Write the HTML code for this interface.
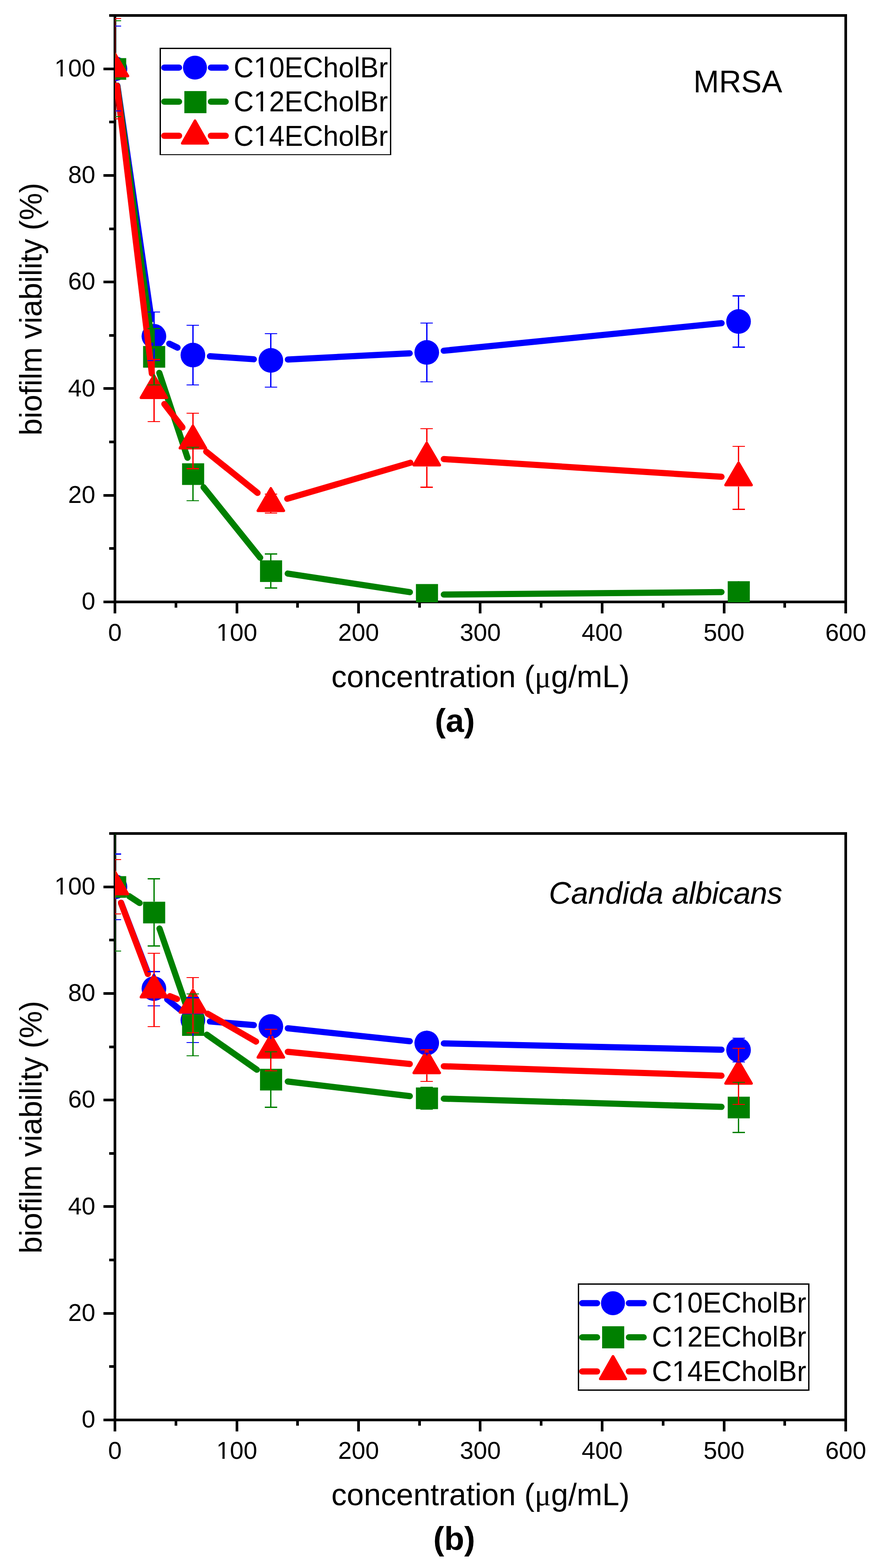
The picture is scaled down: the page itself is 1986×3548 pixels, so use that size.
<!DOCTYPE html>
<html lang="en"><head><meta charset="utf-8"><title>Biofilm viability</title>
<style>html,body{margin:0;padding:0;background:#fff}body{width:1986px;height:3548px;overflow:hidden}svg{display:block}text{white-space:pre}</style>
</head><body>
<svg width="1986" height="3548" viewBox="0 0 1986 3548">
<rect width="1986" height="3548" fill="#fff"/>
<g id="plot0">
<clipPath id="clip0"><rect x="260" y="35" width="1653" height="1328"/></clipPath>
<g stroke="#000" stroke-width="6" fill="none" shape-rendering="crispEdges">
<line x1="247" y1="35" x2="1916" y2="35"/>
<line x1="234" y1="1362" x2="1916" y2="1362"/>
<line x1="260" y1="35" x2="260" y2="1388"/>
<line x1="1913" y1="35" x2="1913" y2="1388"/>
<line x1="247" y1="1241.36" x2="260" y2="1241.36"/>
<line x1="234" y1="1120.73" x2="260" y2="1120.73"/>
<line x1="247" y1="1000.09" x2="260" y2="1000.09"/>
<line x1="234" y1="879.45" x2="260" y2="879.45"/>
<line x1="247" y1="758.82" x2="260" y2="758.82"/>
<line x1="234" y1="638.18" x2="260" y2="638.18"/>
<line x1="247" y1="517.55" x2="260" y2="517.55"/>
<line x1="234" y1="396.91" x2="260" y2="396.91"/>
<line x1="247" y1="276.27" x2="260" y2="276.27"/>
<line x1="234" y1="155.64" x2="260" y2="155.64"/>
<line x1="397.75" y1="1362" x2="397.75" y2="1375"/>
<line x1="535.5" y1="1362" x2="535.5" y2="1388"/>
<line x1="673.25" y1="1362" x2="673.25" y2="1375"/>
<line x1="811" y1="1362" x2="811" y2="1388"/>
<line x1="948.75" y1="1362" x2="948.75" y2="1375"/>
<line x1="1085.5" y1="1362" x2="1085.5" y2="1388"/>
<line x1="1224.25" y1="1362" x2="1224.25" y2="1375"/>
<line x1="1362" y1="1362" x2="1362" y2="1388"/>
<line x1="1499.75" y1="1362" x2="1499.75" y2="1375"/>
<line x1="1637.5" y1="1362" x2="1637.5" y2="1388"/>
<line x1="1775.25" y1="1362" x2="1775.25" y2="1375"/>
</g>
<g font-family='"Liberation Sans", Arial, Helvetica, sans-serif' fill="#000">
<text transform="translate(215.6 1379.3) scale(1 1.01)" font-size="55.5" text-anchor="end">0</text>
<text transform="translate(215.6 1138.03) scale(1 1.01)" font-size="55.5" text-anchor="end">20</text>
<text transform="translate(215.6 896.75) scale(1 1.01)" font-size="55.5" text-anchor="end">40</text>
<text transform="translate(215.6 655.48) scale(1 1.01)" font-size="55.5" text-anchor="end">60</text>
<text transform="translate(215.6 414.21) scale(1 1.01)" font-size="55.5" text-anchor="end">80</text>
<text transform="translate(215.6 172.94) scale(1 1.01)" font-size="55.5" text-anchor="end">100</text>
<rect x="126.23" y="166.73" width="10.73" height="8.71" fill="#fff"/><rect x="141.86" y="166.73" width="10.3" height="8.71" fill="#fff"/>
<text transform="translate(260 1449.8) scale(1 1.01)" font-size="55.5" text-anchor="middle">0</text>
<text transform="translate(535.5 1449.8) scale(1 1.01)" font-size="55.5" text-anchor="middle">100</text>
<rect x="492.43" y="1443.59" width="10.73" height="8.71" fill="#fff"/><rect x="508.06" y="1443.59" width="10.3" height="8.71" fill="#fff"/>
<text transform="translate(811 1449.8) scale(1 1.01)" font-size="55.5" text-anchor="middle">200</text>
<text transform="translate(1086.5 1449.8) scale(1 1.01)" font-size="55.5" text-anchor="middle">300</text>
<text transform="translate(1362 1449.8) scale(1 1.01)" font-size="55.5" text-anchor="middle">400</text>
<text transform="translate(1637.5 1449.8) scale(1 1.01)" font-size="55.5" text-anchor="middle">500</text>
<text transform="translate(1913 1449.8) scale(1 1.01)" font-size="55.5" text-anchor="middle">600</text>
<text transform="translate(749.5 1554.6)" font-size="69.5">concentration (<tspan font-family='"Liberation Serif", "DejaVu Serif", serif' font-size="69.5">μ</tspan>g/mL)</text>
<text transform="translate(94 985.5) rotate(-90)" font-size="69.5" letter-spacing="-0.17">biofilm viability (%)</text>
<text transform="translate(983.4 1655.8)" font-size="74.3" font-weight="bold">(a)</text>
<text transform="translate(1568.5 209.2) scale(1 1.02)" font-size="69.5">MRSA</text>
</g>
<g clip-path="url(#clip0)">
<g stroke="#0000ff" stroke-width="14" stroke-linecap="round" fill="none">
<line x1="265.56" y1="193.83" x2="342.6" y2="722.67"/>
<line x1="382.92" y1="777.66" x2="401.56" y2="786.66"/>
<line x1="474.83" y1="806.09" x2="574.13" y2="812.88"/>
<line x1="651.19" y1="813.54" x2="926.73" y2="799.4"/>
<line x1="1003.69" y1="793.61" x2="1632.15" y2="731.26"/>
</g>
<circle cx="260" cy="155.64" r="27.9" fill="#0000ff"/>
<circle cx="348.16" cy="760.87" r="27.9" fill="#0000ff"/>
<circle cx="436.32" cy="803.45" r="27.9" fill="#0000ff"/>
<circle cx="612.64" cy="815.52" r="27.9" fill="#0000ff"/>
<circle cx="965.28" cy="797.42" r="27.9" fill="#0000ff"/>
<circle cx="1670.56" cy="727.45" r="27.9" fill="#0000ff"/>
<g stroke="#008000" stroke-width="14" stroke-linecap="round" fill="none">
<line x1="265.18" y1="193.89" x2="342.98" y2="768.82"/>
<line x1="360.33" y1="843.7" x2="424.15" y2="1035.84"/>
<line x1="460.49" y1="1102.57" x2="588.47" y2="1261.93"/>
<line x1="650.8" y1="1297.84" x2="927.12" y2="1339.9"/>
<line x1="1003.88" y1="1345.36" x2="1631.96" y2="1339.67"/>
</g>
<rect x="235.5" y="131.49" width="50" height="49" fill="#008000"/>
<rect x="323.66" y="782.92" width="50" height="49" fill="#008000"/>
<rect x="411.82" y="1048.32" width="50" height="49" fill="#008000"/>
<rect x="588.14" y="1267.88" width="50" height="49" fill="#008000"/>
<rect x="940.78" y="1321.56" width="50" height="49" fill="#008000"/>
<rect x="1646.06" y="1315.17" width="50" height="49" fill="#008000"/>
<g stroke="#ff0000" stroke-width="14" stroke-linecap="round" fill="none">
<line x1="264.64" y1="193.96" x2="343.52" y2="845.36"/>
<line x1="371.77" y1="914.21" x2="412.71" y2="967.14"/>
<line x1="466.4" y1="1021.86" x2="582.56" y2="1115.24"/>
<line x1="649.69" y1="1128.59" x2="928.23" y2="1047.12"/>
<line x1="1003.8" y1="1038.74" x2="1632.04" y2="1078.82"/>
</g>
<polygon points="260,121.54 289.35,171.94 230.65,171.94" fill="#ff0000" stroke="#ff0000" stroke-width="6" stroke-linejoin="round"/>
<polygon points="348.16,849.58 377.51,899.98 318.81,899.98" fill="#ff0000" stroke="#ff0000" stroke-width="6" stroke-linejoin="round"/>
<polygon points="436.32,963.58 465.67,1013.98 406.97,1013.98" fill="#ff0000" stroke="#ff0000" stroke-width="6" stroke-linejoin="round"/>
<polygon points="612.64,1105.33 641.99,1155.73 583.29,1155.73" fill="#ff0000" stroke="#ff0000" stroke-width="6" stroke-linejoin="round"/>
<polygon points="965.28,1002.18 994.63,1052.58 935.93,1052.58" fill="#ff0000" stroke="#ff0000" stroke-width="6" stroke-linejoin="round"/>
<polygon points="1670.56,1047.18 1699.91,1097.58 1641.21,1097.58" fill="#ff0000" stroke="#ff0000" stroke-width="6" stroke-linejoin="round"/>
<g stroke="#0000ff" fill="none" shape-rendering="crispEdges">
<path stroke-width="2.8" d="M259.5 127.74V59.13M259.5 183.54V250.94M348.16 732.97V706.22M348.16 788.77V815.52M436.32 775.55V735.9M436.32 831.35V871.01M612.64 787.62V755.2M612.64 843.42V875.84M965.28 769.52V731.07M965.28 825.32V863.77M1670.56 699.55V669.55M1670.56 755.35V785.36"/>
<path stroke-width="2.3" d="M245.5 59.13H273.5M245.5 250.94H273.5M334.16 706.22H362.16M334.16 815.52H362.16M422.32 735.9H450.32M422.32 871.01H450.32M598.64 755.2H626.64M598.64 875.84H626.64M951.28 731.07H979.28M951.28 863.77H979.28M1656.56 669.55H1684.56M1656.56 785.36H1684.56"/>
</g>
<g stroke="#008000" fill="none" shape-rendering="crispEdges">
<path stroke-width="2.8" d="M259.5 131.49V47.06M259.5 180.49V264.21M348.16 782.92V743.5M348.16 831.92V870.65M436.32 1048.32V1012.15M436.32 1097.32V1132.79M612.64 1267.88V1253.43M612.64 1316.88V1330.63M965.28 1321.56V1333.65M965.28 1370.56V1357.78M1670.56 1315.17V1327.26M1670.56 1364.17V1351.38"/>
<path stroke-width="2.3" d="M245.5 47.06H273.5M245.5 264.21H273.5M334.16 743.5H362.16M334.16 870.65H362.16M422.32 1012.15H450.32M422.32 1132.79H450.32M598.64 1253.43H626.64M598.64 1330.63H626.64M951.28 1333.65H979.28M951.28 1357.78H979.28M1656.56 1327.26H1684.56M1656.56 1351.38H1684.56"/>
</g>
<g stroke="#ff0000" fill="none" shape-rendering="crispEdges">
<path stroke-width="2.8" d="M259.5 118.54V42.24M259.5 174.94V269.03M348.16 846.58V813.35M348.16 902.98V954.01M436.32 960.58V934.95M436.32 1016.98V1060.41M612.64 1102.33V1117.71M612.64 1158.73V1161.14M965.28 999.18V969.93M965.28 1055.58V1102.63M1670.56 1044.18V1010.1M1670.56 1100.58V1152.45"/>
<path stroke-width="2.3" d="M245.5 42.24H273.5M245.5 269.03H273.5M334.16 813.35H362.16M334.16 954.01H362.16M422.32 934.95H450.32M422.32 1060.41H450.32M598.64 1117.71H626.64M598.64 1161.14H626.64M951.28 969.93H979.28M951.28 1102.63H979.28M1656.56 1010.1H1684.56M1656.56 1152.45H1684.56"/>
</g>
</g>
<g id="legend0">
<rect x="362.4" y="109.7" width="521.2" height="240.4" fill="#fff" stroke="#000" stroke-width="2.8" shape-rendering="crispEdges"/>
<g stroke="#0000ff" stroke-width="14" stroke-linecap="round">
<line x1="371.5" y1="152.9" x2="405" y2="152.9"/>
<line x1="477" y1="152.9" x2="510.5" y2="152.9"/>
</g>
<circle cx="441" cy="153" r="27.1" fill="#0000ff"/>
<g font-family='"Liberation Sans", Arial, Helvetica, sans-serif' fill="#000">
<text transform="translate(528.4 175.1) scale(1 1.03)" font-size="62.8">C10ECholBr</text>
<rect x="577.54" y="168.27" width="12.01" height="9.33" fill="#fff"/><rect x="595.09" y="168.27" width="11.52" height="9.33" fill="#fff"/>
</g>
<g stroke="#008000" stroke-width="14" stroke-linecap="round">
<line x1="371.5" y1="230.1" x2="405" y2="230.1"/>
<line x1="477" y1="230.1" x2="510.5" y2="230.1"/>
</g>
<rect x="417" y="206.1" width="50" height="50" fill="#008000"/>
<g font-family='"Liberation Sans", Arial, Helvetica, sans-serif' fill="#000">
<text transform="translate(528.4 252.3) scale(1 1.03)" font-size="62.8">C12ECholBr</text>
<rect x="577.54" y="245.47" width="12.01" height="9.33" fill="#fff"/><rect x="595.09" y="245.47" width="11.52" height="9.33" fill="#fff"/>
</g>
<g stroke="#ff0000" stroke-width="14" stroke-linecap="round">
<line x1="371.5" y1="307.3" x2="405" y2="307.3"/>
<line x1="477" y1="307.3" x2="510.5" y2="307.3"/>
</g>
<polygon points="441.1,273.2 469.95,324.2 412.25,324.2" fill="#ff0000" stroke="#ff0000" stroke-width="6" stroke-linejoin="round"/>
<g font-family='"Liberation Sans", Arial, Helvetica, sans-serif' fill="#000">
<text transform="translate(528.4 329.5) scale(1 1.03)" font-size="62.8">C14ECholBr</text>
<rect x="577.54" y="322.67" width="12.01" height="9.33" fill="#fff"/><rect x="595.09" y="322.67" width="11.52" height="9.33" fill="#fff"/>
</g>
</g>
</g>
<g id="plot1">
<clipPath id="clip1"><rect x="260" y="1886" width="1653" height="1328"/></clipPath>
<g stroke="#000" stroke-width="6" fill="none" shape-rendering="crispEdges">
<line x1="247" y1="1886" x2="1916" y2="1886"/>
<line x1="234" y1="3213" x2="1916" y2="3213"/>
<line x1="260" y1="1886" x2="260" y2="3239"/>
<line x1="1913" y1="1886" x2="1913" y2="3239"/>
<line x1="247" y1="3092.36" x2="260" y2="3092.36"/>
<line x1="234" y1="2971.73" x2="260" y2="2971.73"/>
<line x1="247" y1="2851.09" x2="260" y2="2851.09"/>
<line x1="234" y1="2730.45" x2="260" y2="2730.45"/>
<line x1="247" y1="2609.82" x2="260" y2="2609.82"/>
<line x1="234" y1="2489.18" x2="260" y2="2489.18"/>
<line x1="247" y1="2368.55" x2="260" y2="2368.55"/>
<line x1="234" y1="2247.91" x2="260" y2="2247.91"/>
<line x1="247" y1="2127.27" x2="260" y2="2127.27"/>
<line x1="234" y1="2006.64" x2="260" y2="2006.64"/>
<line x1="397.75" y1="3213" x2="397.75" y2="3226"/>
<line x1="535.5" y1="3213" x2="535.5" y2="3239"/>
<line x1="673.25" y1="3213" x2="673.25" y2="3226"/>
<line x1="811" y1="3213" x2="811" y2="3239"/>
<line x1="948.75" y1="3213" x2="948.75" y2="3226"/>
<line x1="1085.5" y1="3213" x2="1085.5" y2="3239"/>
<line x1="1224.25" y1="3213" x2="1224.25" y2="3226"/>
<line x1="1362" y1="3213" x2="1362" y2="3239"/>
<line x1="1499.75" y1="3213" x2="1499.75" y2="3226"/>
<line x1="1637.5" y1="3213" x2="1637.5" y2="3239"/>
<line x1="1775.25" y1="3213" x2="1775.25" y2="3226"/>
</g>
<g font-family='"Liberation Sans", Arial, Helvetica, sans-serif' fill="#000">
<text transform="translate(215.6 3230.3) scale(1 1.01)" font-size="55.5" text-anchor="end">0</text>
<text transform="translate(215.6 2989.03) scale(1 1.01)" font-size="55.5" text-anchor="end">20</text>
<text transform="translate(215.6 2747.75) scale(1 1.01)" font-size="55.5" text-anchor="end">40</text>
<text transform="translate(215.6 2506.48) scale(1 1.01)" font-size="55.5" text-anchor="end">60</text>
<text transform="translate(215.6 2265.21) scale(1 1.01)" font-size="55.5" text-anchor="end">80</text>
<text transform="translate(215.6 2023.94) scale(1 1.01)" font-size="55.5" text-anchor="end">100</text>
<rect x="126.23" y="2017.73" width="10.73" height="8.71" fill="#fff"/><rect x="141.86" y="2017.73" width="10.3" height="8.71" fill="#fff"/>
<text transform="translate(260 3300.8) scale(1 1.01)" font-size="55.5" text-anchor="middle">0</text>
<text transform="translate(535.5 3300.8) scale(1 1.01)" font-size="55.5" text-anchor="middle">100</text>
<rect x="492.43" y="3294.59" width="10.73" height="8.71" fill="#fff"/><rect x="508.06" y="3294.59" width="10.3" height="8.71" fill="#fff"/>
<text transform="translate(811 3300.8) scale(1 1.01)" font-size="55.5" text-anchor="middle">200</text>
<text transform="translate(1086.5 3300.8) scale(1 1.01)" font-size="55.5" text-anchor="middle">300</text>
<text transform="translate(1362 3300.8) scale(1 1.01)" font-size="55.5" text-anchor="middle">400</text>
<text transform="translate(1637.5 3300.8) scale(1 1.01)" font-size="55.5" text-anchor="middle">500</text>
<text transform="translate(1913 3300.8) scale(1 1.01)" font-size="55.5" text-anchor="middle">600</text>
<text transform="translate(749.5 3405.6)" font-size="69.5">concentration (<tspan font-family='"Liberation Serif", "DejaVu Serif", serif' font-size="69.5">μ</tspan>g/mL)</text>
<text transform="translate(94 2836.5) rotate(-90)" font-size="69.5" letter-spacing="-0.17">biofilm viability (%)</text>
<text transform="translate(979.9 3506.8)" font-size="74.3" font-weight="bold">(b)</text>
<text transform="translate(1241.5 2045)" font-size="69.5" font-style="italic">Candida <tspan letter-spacing="-0.7">albicans</tspan></text>
</g>
<g clip-path="url(#clip1)">
<g stroke="#0000ff" stroke-width="14" stroke-linecap="round" fill="none">
<line x1="273.79" y1="2042.69" x2="334.37" y2="2201"/>
<line x1="378.19" y1="2261.3" x2="406.29" y2="2283.98"/>
<line x1="474.79" y1="2311.39" x2="574.17" y2="2319.55"/>
<line x1="651.02" y1="2326.77" x2="926.9" y2="2356.03"/>
<line x1="1003.87" y1="2360.97" x2="1631.97" y2="2375.15"/>
</g>
<circle cx="260" cy="2006.64" r="27.9" fill="#0000ff"/>
<circle cx="348.16" cy="2237.05" r="27.9" fill="#0000ff"/>
<circle cx="436.32" cy="2308.23" r="27.9" fill="#0000ff"/>
<circle cx="612.64" cy="2322.7" r="27.9" fill="#0000ff"/>
<circle cx="965.28" cy="2360.1" r="27.9" fill="#0000ff"/>
<circle cx="1670.56" cy="2376.02" r="27.9" fill="#0000ff"/>
<g stroke="#008000" stroke-width="14" stroke-linecap="round" fill="none">
<line x1="292.26" y1="2027.83" x2="315.9" y2="2043.35"/>
<line x1="360.79" y1="2101.02" x2="423.69" y2="2282.61"/>
<line x1="467.93" y1="2341.23" x2="581.03" y2="2420.47"/>
<line x1="650.97" y1="2447.21" x2="926.95" y2="2480.25"/>
<line x1="1003.86" y1="2485.98" x2="1631.98" y2="2504.57"/>
</g>
<rect x="235.5" y="1982.49" width="50" height="49" fill="#008000"/>
<rect x="323.66" y="2040.39" width="50" height="49" fill="#008000"/>
<rect x="411.82" y="2294.93" width="50" height="49" fill="#008000"/>
<rect x="588.14" y="2418.47" width="50" height="49" fill="#008000"/>
<rect x="940.78" y="2460.69" width="50" height="49" fill="#008000"/>
<rect x="1646.06" y="2481.56" width="50" height="49" fill="#008000"/>
<g stroke="#ff0000" stroke-width="14" stroke-linecap="round" fill="none">
<line x1="273.64" y1="2042.75" x2="334.52" y2="2203.96"/>
<line x1="384.12" y1="2254.09" x2="400.36" y2="2260.42"/>
<line x1="469.76" y1="2293.73" x2="579.2" y2="2356.86"/>
<line x1="651.05" y1="2379.98" x2="926.87" y2="2407.53"/>
<line x1="1003.86" y1="2412.68" x2="1631.98" y2="2433.95"/>
</g>
<polygon points="260,1972.54 289.35,2022.94 230.65,2022.94" fill="#ff0000" stroke="#ff0000" stroke-width="6" stroke-linejoin="round"/>
<polygon points="348.16,2205.97 377.51,2256.37 318.81,2256.37" fill="#ff0000" stroke="#ff0000" stroke-width="6" stroke-linejoin="round"/>
<polygon points="436.32,2240.35 465.67,2290.75 406.97,2290.75" fill="#ff0000" stroke="#ff0000" stroke-width="6" stroke-linejoin="round"/>
<polygon points="612.64,2342.05 641.99,2392.45 583.29,2392.45" fill="#ff0000" stroke="#ff0000" stroke-width="6" stroke-linejoin="round"/>
<polygon points="965.28,2377.27 994.63,2427.67 935.93,2427.67" fill="#ff0000" stroke="#ff0000" stroke-width="6" stroke-linejoin="round"/>
<polygon points="1670.56,2401.16 1699.91,2451.56 1641.21,2451.56" fill="#ff0000" stroke="#ff0000" stroke-width="6" stroke-linejoin="round"/>
<g stroke="#0000ff" fill="none" shape-rendering="crispEdges">
<path stroke-width="2.8" d="M259.5 1978.74V1932.44M259.5 2034.54V2080.83M348.16 2209.15V2198.45M348.16 2264.95V2275.66M436.32 2280.33V2257.56M436.32 2336.13V2358.89M612.64 2294.8V2302.8M612.64 2350.6V2342.61M965.28 2332.2V2337.42M965.28 2388V2382.78M1670.56 2348.12V2349.18M1670.56 2403.92V2402.87"/>
<path stroke-width="2.3" d="M245.5 1932.44H273.5M245.5 2080.83H273.5M334.16 2198.45H362.16M334.16 2275.66H362.16M422.32 2257.56H450.32M422.32 2358.89H450.32M598.64 2302.8H626.64M598.64 2342.61H626.64M951.28 2337.42H979.28M951.28 2382.78H979.28M1656.56 2349.18H1684.56M1656.56 2402.87H1684.56"/>
</g>
<g stroke="#008000" fill="none" shape-rendering="crispEdges">
<path stroke-width="2.8" d="M259.5 1982.49V1861.03M259.5 2031.49V2152.24M348.16 2040.39V1988.54M348.16 2089.39V2140.54M436.32 2294.93V2249.12M436.32 2343.93V2389.05M612.64 2418.47V2379.89M612.64 2467.47V2505.35M965.28 2460.69V2460.35M965.28 2509.69V2510.29M1670.56 2481.56V2448.89M1670.56 2530.56V2562.53"/>
<path stroke-width="2.3" d="M245.5 1861.03H273.5M245.5 2152.24H273.5M334.16 1988.54H362.16M334.16 2140.54H362.16M422.32 2249.12H450.32M422.32 2389.05H450.32M598.64 2379.89H626.64M598.64 2505.35H626.64M951.28 2460.35H979.28M951.28 2510.29H979.28M1656.56 2448.89H1684.56M1656.56 2562.53H1684.56"/>
</g>
<g stroke="#ff0000" fill="none" shape-rendering="crispEdges">
<path stroke-width="2.8" d="M259.5 1969.54V1945.11M259.5 2025.94V2068.16M348.16 2202.97V2156.83M348.16 2259.37V2323.31M436.32 2237.35V2211.72M436.32 2293.75V2337.18M612.64 2339.05V2329.1M612.64 2395.45V2423.19M965.28 2374.27V2375.54M965.28 2430.67V2447.2M1670.56 2398.16V2371.8M1670.56 2454.56V2498.71"/>
<path stroke-width="2.3" d="M245.5 1945.11H273.5M245.5 2068.16H273.5M334.16 2156.83H362.16M334.16 2323.31H362.16M422.32 2211.72H450.32M422.32 2337.18H450.32M598.64 2329.1H626.64M598.64 2423.19H626.64M951.28 2375.54H979.28M951.28 2447.2H979.28M1656.56 2371.8H1684.56M1656.56 2498.71H1684.56"/>
</g>
</g>
<g id="legend1">
<rect x="1308.6" y="2905.2" width="521.2" height="240.4" fill="#fff" stroke="#000" stroke-width="2.8" shape-rendering="crispEdges"/>
<g stroke="#0000ff" stroke-width="14" stroke-linecap="round">
<line x1="1317" y1="2948.8" x2="1350.5" y2="2948.8"/>
<line x1="1422.5" y1="2948.8" x2="1456" y2="2948.8"/>
</g>
<circle cx="1386.5" cy="2948.9" r="27.1" fill="#0000ff"/>
<g font-family='"Liberation Sans", Arial, Helvetica, sans-serif' fill="#000">
<text transform="translate(1474.6 2970.1) scale(1 1.03)" font-size="62.8">C10ECholBr</text>
<rect x="1523.74" y="2963.27" width="12.01" height="9.33" fill="#fff"/><rect x="1541.29" y="2963.27" width="11.52" height="9.33" fill="#fff"/>
</g>
<g stroke="#008000" stroke-width="14" stroke-linecap="round">
<line x1="1317" y1="3026" x2="1350.5" y2="3026"/>
<line x1="1422.5" y1="3026" x2="1456" y2="3026"/>
</g>
<rect x="1362" y="3001" width="50" height="50" fill="#008000"/>
<g font-family='"Liberation Sans", Arial, Helvetica, sans-serif' fill="#000">
<text transform="translate(1474.6 3047.3) scale(1 1.03)" font-size="62.8">C12ECholBr</text>
<rect x="1523.74" y="3040.47" width="12.01" height="9.33" fill="#fff"/><rect x="1541.29" y="3040.47" width="11.52" height="9.33" fill="#fff"/>
</g>
<g stroke="#ff0000" stroke-width="14" stroke-linecap="round">
<line x1="1317" y1="3103.2" x2="1350.5" y2="3103.2"/>
<line x1="1422.5" y1="3103.2" x2="1456" y2="3103.2"/>
</g>
<polygon points="1386.6,3069.1 1415.45,3120.1 1357.75,3120.1" fill="#ff0000" stroke="#ff0000" stroke-width="6" stroke-linejoin="round"/>
<g font-family='"Liberation Sans", Arial, Helvetica, sans-serif' fill="#000">
<text transform="translate(1474.6 3124.5) scale(1 1.03)" font-size="62.8">C14ECholBr</text>
<rect x="1523.74" y="3117.67" width="12.01" height="9.33" fill="#fff"/><rect x="1541.29" y="3117.67" width="11.52" height="9.33" fill="#fff"/>
</g>
</g>
</g>
</svg></body></html>
